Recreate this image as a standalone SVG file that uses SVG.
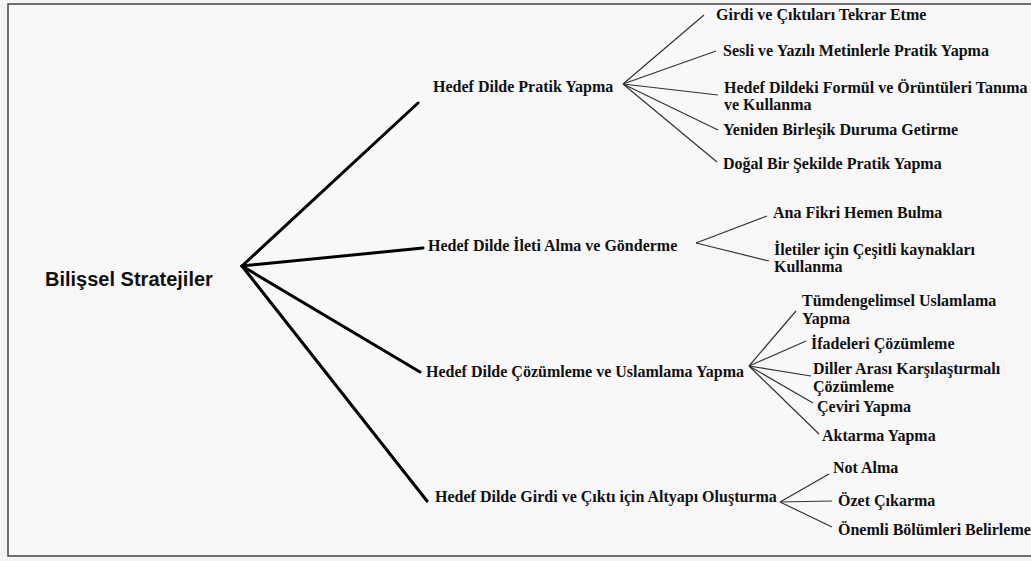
<svg xmlns="http://www.w3.org/2000/svg" width="1031" height="561" viewBox="0 0 1031 561">
<style>
.t{font-family:"Liberation Serif","Times New Roman",serif;font-weight:bold;font-size:16px;fill:#111}
.title{font-family:"Liberation Sans",Arial,sans-serif;font-weight:bold;font-size:20px;fill:#111}
.main{stroke:#000;stroke-width:3;fill:none;stroke-linecap:round}
.sub{stroke:#333;stroke-width:1.2;fill:none}
</style>
<rect x="0" y="0" width="1031" height="561" fill="#f4f4f4"/>
<rect x="8" y="4" width="1040" height="552" fill="#f8f8f8" stroke="#505050" stroke-width="1.6"/>
<g id="connectors">
<line class="main" x1="242" y1="266" x2="418" y2="103"/>
<line class="main" x1="242" y1="266" x2="423" y2="248"/>
<line class="main" x1="242" y1="266" x2="420" y2="372"/>
<line class="main" x1="242" y1="266" x2="427" y2="501"/>
<line class="sub" x1="623" y1="84" x2="704" y2="15"/>
<line class="sub" x1="623" y1="84" x2="716" y2="51"/>
<line class="sub" x1="623" y1="84" x2="718" y2="95"/>
<line class="sub" x1="623" y1="84" x2="718" y2="130"/>
<line class="sub" x1="623" y1="84" x2="717" y2="162"/>
<line class="sub" x1="696" y1="243" x2="767" y2="216"/>
<line class="sub" x1="696" y1="243" x2="769" y2="261"/>
<line class="sub" x1="749" y1="366" x2="796" y2="311"/>
<line class="sub" x1="749" y1="366" x2="806" y2="341"/>
<line class="sub" x1="749" y1="366" x2="811" y2="376"/>
<line class="sub" x1="749" y1="366" x2="813" y2="403"/>
<line class="sub" x1="749" y1="366" x2="819" y2="434"/>
<line class="sub" x1="780" y1="502" x2="829" y2="474"/>
<line class="sub" x1="780" y1="502" x2="832" y2="501"/>
<line class="sub" x1="780" y1="502" x2="832" y2="527"/>
</g>
<g id="root"><text class="title" x="45" y="286">Bilişsel Stratejiler</text></g>
<g id="n1"><text class="t" x="433" y="92">Hedef Dilde Pratik Yapma</text></g>
<g id="n1a"><text class="t" x="716" y="20">Girdi ve Çıktıları Tekrar Etme</text></g>
<g id="n1b"><text class="t" x="723" y="56">Sesli ve Yazılı Metinlerle Pratik Yapma</text></g>
<g id="n1c"><text class="t" x="724" y="93">Hedef Dildeki Formül ve Örüntüleri Tanıma</text><text class="t" x="724" y="110">ve Kullanma</text></g>
<g id="n1d"><text class="t" x="723" y="135">Yeniden Birleşik Duruma Getirme</text></g>
<g id="n1e"><text class="t" x="723" y="169">Doğal Bir Şekilde Pratik Yapma</text></g>
<g id="n2"><text class="t" x="428" y="251">Hedef Dilde İleti Alma ve Gönderme</text></g>
<g id="n2a"><text class="t" x="773" y="218">Ana Fikri Hemen Bulma</text></g>
<g id="n2b"><text class="t" x="774" y="255">İletiler için Çeşitli kaynakları</text><text class="t" x="774" y="272">Kullanma</text></g>
<g id="n3"><text class="t" x="426" y="377">Hedef Dilde Çözümleme ve Uslamlama Yapma</text></g>
<g id="n3a"><text class="t" x="802" y="306">Tümdengelimsel Uslamlama</text><text class="t" x="802" y="324">Yapma</text></g>
<g id="n3b"><text class="t" x="811" y="349">İfadeleri Çözümleme</text></g>
<g id="n3c"><text class="t" x="813" y="374">Diller Arası Karşılaştırmalı</text><text class="t" x="813" y="392">Çözümleme</text></g>
<g id="n3d"><text class="t" x="817" y="412">Çeviri Yapma</text></g>
<g id="n3e"><text class="t" x="822" y="441">Aktarma Yapma</text></g>
<g id="n4"><text class="t" x="435" y="502">Hedef Dilde Girdi ve Çıktı için Altyapı Oluşturma</text></g>
<g id="n4a"><text class="t" x="833" y="473">Not Alma</text></g>
<g id="n4b"><text class="t" x="838" y="506">Özet Çıkarma</text></g>
<g id="n4c"><text class="t" x="838" y="535">Önemli Bölümleri Belirleme</text></g>
</svg>
